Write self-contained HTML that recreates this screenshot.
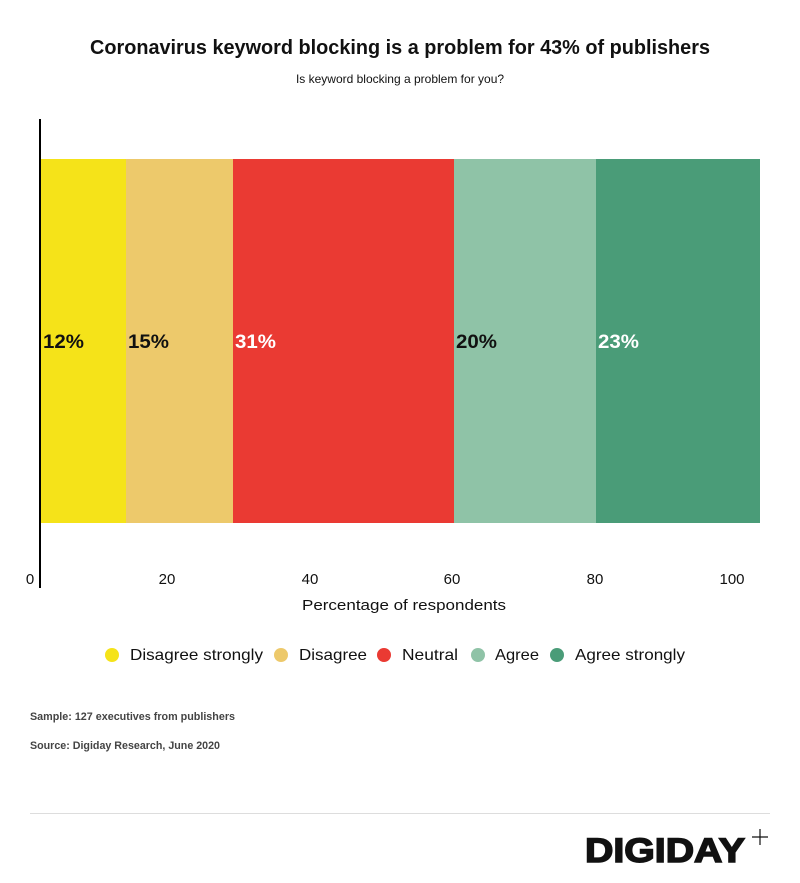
<!DOCTYPE html>
<html><head><meta charset="utf-8"><style>
body{margin:0;background:#fff;}
svg{display:block;font-family:"Liberation Sans",sans-serif;}
</style></head><body>
<svg width="800" height="883" viewBox="0 0 800 883">
<rect width="800" height="883" fill="#fff"/>
<text x="400" y="54" text-anchor="middle" font-size="20" font-weight="bold" fill="#111" textLength="620" lengthAdjust="spacingAndGlyphs">Coronavirus keyword blocking is a problem for 43% of publishers</text>
<text x="400" y="83" text-anchor="middle" font-size="12" fill="#111">Is keyword blocking a problem for you?</text>
<rect x="40" y="159" width="86" height="364" fill="#F5E319"/>
<rect x="126" y="159" width="107" height="364" fill="#EDC96B"/>
<rect x="233" y="159" width="221" height="364" fill="#EA3A33"/>
<rect x="454" y="159" width="142" height="364" fill="#8FC3A7"/>
<rect x="596" y="159" width="164" height="364" fill="#4A9C78"/>
<line x1="40" y1="119" x2="40" y2="588" stroke="#000" stroke-width="2"/>
<g font-size="19" font-weight="bold">
<text x="43" y="348" fill="#111" textLength="41" lengthAdjust="spacingAndGlyphs">12%</text>
<text x="128" y="348" fill="#111" textLength="41" lengthAdjust="spacingAndGlyphs">15%</text>
<text x="235" y="348" fill="#fff" textLength="41" lengthAdjust="spacingAndGlyphs">31%</text>
<text x="456" y="348" fill="#111" textLength="41" lengthAdjust="spacingAndGlyphs">20%</text>
<text x="598" y="348" fill="#fff" textLength="41" lengthAdjust="spacingAndGlyphs">23%</text>
</g>
<g font-size="15" fill="#111" text-anchor="middle">
<text x="30" y="584">0</text>
<text x="167" y="584">20</text>
<text x="310" y="584">40</text>
<text x="452" y="584">60</text>
<text x="595" y="584">80</text>
<text x="732" y="584">100</text>
<text x="404" y="610" textLength="204" lengthAdjust="spacingAndGlyphs">Percentage of respondents</text>
</g>
<g font-size="16" fill="#111">
<circle cx="112" cy="655" r="7" fill="#F5E319"/><text x="130" y="660" textLength="133" lengthAdjust="spacingAndGlyphs">Disagree strongly</text>
<circle cx="281" cy="655" r="7" fill="#EDC96B"/><text x="299" y="660" textLength="68" lengthAdjust="spacingAndGlyphs">Disagree</text>
<circle cx="384" cy="655" r="7" fill="#EA3A33"/><text x="402" y="660" textLength="56" lengthAdjust="spacingAndGlyphs">Neutral</text>
<circle cx="478" cy="655" r="7" fill="#8FC3A7"/><text x="495" y="660" textLength="44" lengthAdjust="spacingAndGlyphs">Agree</text>
<circle cx="557" cy="655" r="7" fill="#4A9C78"/><text x="575" y="660" textLength="110" lengthAdjust="spacingAndGlyphs">Agree strongly</text>
</g>
<g font-size="11" font-weight="bold" fill="#444">
<text x="30" y="720" textLength="205" lengthAdjust="spacingAndGlyphs">Sample: 127 executives from publishers</text>
<text x="30" y="749" textLength="190" lengthAdjust="spacingAndGlyphs">Source: Digiday Research, June 2020</text>
</g>
<line x1="30" y1="813.5" x2="770" y2="813.5" stroke="#ddd" stroke-width="1"/>
<text x="585" y="862" font-size="34" font-weight="900" fill="#111" stroke="#111" stroke-width="1.5" textLength="160" lengthAdjust="spacingAndGlyphs">DIGIDAY</text>
<path d="M760 829v16M752 837h16" stroke="#111" stroke-width="1.2"/>
</svg>
</body></html>
